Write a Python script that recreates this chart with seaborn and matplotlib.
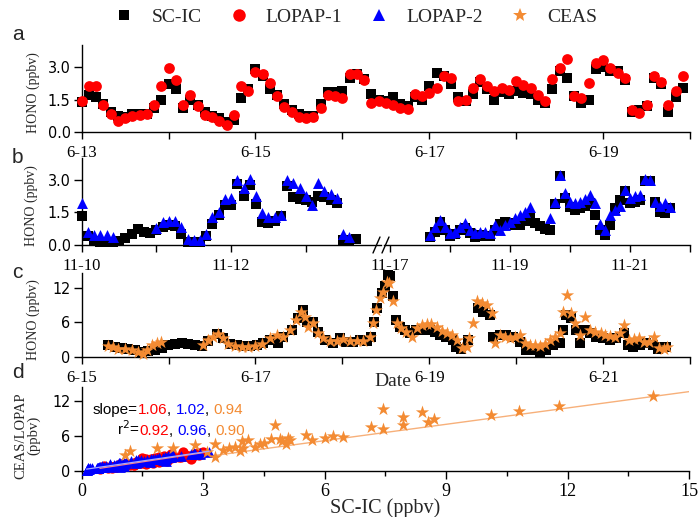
import numpy as np
import pandas as pd
import matplotlib
matplotlib.use("Agg")
import matplotlib.pyplot as plt
from matplotlib import font_manager
from matplotlib.lines import Line2D
from matplotlib.ticker import MultipleLocator
import seaborn as sns

# ---------------- data ----------------
# panel a: June campaign, SC-IC vs LOPAP-1, 2-hourly from 6-13 00:00
a_hours = np.arange(0, 168, 2)
a_scic = [1.40, 1.70, 1.60, 1.30, 0.95, 0.75, 0.70, 0.85, 0.85, 0.85,
          1.10, 1.50, 2.20, 2.00, 1.10, 1.50, 1.25, 0.95, 0.75, 0.65,
          0.45, 0.55, 1.55, 2.00, 2.90, 2.60, 2.00, 1.70, 1.30, 1.00,
          0.85, 0.75, 0.75, 1.30, 1.85, 1.85, 1.90, 2.50, 2.65, 2.45,
          1.75, 1.50, 1.45, 1.60, 1.30, 1.20, 1.60, 1.50, 2.10, 2.70,
          2.60, 2.20, 1.60, 1.45, 1.75, 2.30, 2.00, 1.50, 1.85, 1.75,
          1.90, 1.80, 1.75, 1.50, 1.35, 2.00, 2.80, 2.50, 1.65, 1.35,
          1.50, 2.90, 3.00, 2.80, 2.80, 2.40, 0.95, 1.00, 1.20, 2.49,
          2.20, 0.95, 1.60, 2.03]
a_lopap1 = [1.45, 2.10, 2.10, 1.25, 0.85, 0.50, 0.65, 0.76, 0.77, 0.85,
            1.25, 2.10, 2.95, 2.40, 1.25, 1.70, 1.20, 0.80, 0.72, 0.50,
            0.35, 0.80, 2.10, 1.88, 2.75, 2.65, 2.25, 1.65, 1.18, 0.95,
            0.72, 0.65, 0.70, 1.10, 1.70, 1.65, 1.57, 2.65, 2.65, 2.40,
            1.34, 1.42, 1.34, 1.26, 1.10, 1.08, 1.75, 1.65, 1.80, 2.03,
            2.60, 2.50, 1.42, 1.50, 2.03, 2.45, 2.10, 1.88, 2.05, 1.95,
            2.34, 2.18, 2.03, 1.72, 1.42, 2.42, 2.95, 3.35, 1.65, 1.57,
            2.26, 3.18, 3.30, 2.95, 2.70, 2.50, 1.03, 0.88, 1.26, 2.60,
            2.30, 1.26, 1.88, 2.57]
a_ticklabels = ["6-13", "", "6-15", "", "6-17", "", "6-19", ""]

# panel b: November campaign, SC-IC vs LOPAP-2 (two periods)
nan = np.nan
b1_hours = np.arange(0, 90, 2)          # from 11-10 00:00
b1_scic = [1.35, 0.40, 0.20, 0.15, 0.15, 0.15, 0.20, 0.33, 0.50, 0.75,
           0.60, 0.54, 0.69, 0.85, 0.92, 0.88, 0.50, 0.15, 0.12, 0.12,
           0.40, 0.95, 1.40, 1.85, 1.85, 2.80, 2.25, 2.77, 1.90, 1.05,
           1.00, 1.10, 1.35, 2.69, 2.20, 2.12, 2.05, 2.00, 2.23, 2.20,
           2.05, 1.92, 0.25, 0.18, 0.28]
b1_lopap2 = [1.92, 0.60, 0.46, 0.46, 0.46, 0.38, nan, nan, nan, nan,
             nan, nan, 0.77, 1.05, 1.12, 1.10, 0.85, 0.27, 0.23, 0.23,
             0.50, 1.30, 1.54, 2.12, 2.15, 3.00, 2.62, 3.05, 2.23, 1.46,
             1.31, 1.31, 1.38, 3.00, 2.85, 2.60, 2.25, 1.85, 2.85, 2.50,
             2.35, 2.15, 0.50, 0.36, nan]
b2_hours = np.arange(16, 114, 2)        # from 11-17 00:00
b2_scic = [0.38, 0.60, 1.05, 0.70, 0.40, 0.50, 0.70, 0.80, 0.55, 0.38,
           0.45, 0.42, 0.40, 0.69, 0.95, 1.05, 1.00, 0.92, 0.92, 1.10,
           1.23, 1.00, 0.88, 0.75, 0.70, 1.90, 3.15, 2.15, 1.75, 1.62,
           1.70, 1.80, 1.92, 1.38, 0.69, 0.46, 0.92, 1.69, 2.08, 2.46,
           1.92, 2.00, 2.08, 2.92, 2.92, 2.00, 1.54, 1.46, 1.69]
b2_lopap2 = [0.46, 0.85, 1.15, 0.85, 0.54, 0.62, 0.85, 1.00, 0.69, 0.54,
             0.62, 0.62, 0.54, 0.92, 0.69, 0.92, 1.08, 1.23, 1.38, 1.54,
             1.77, nan, nan, nan, 1.23, 2.00, 3.23, 2.40, 2.00, 1.92,
             2.00, 2.10, 2.31, 1.92, 0.95, 0.69, 1.40, 1.62, 1.80, 2.54,
             2.15, 2.23, 2.31, 3.05, 3.00, 2.00, 1.80, 1.92, 1.77]
b1_ticklabels = ["11-10", "", "11-12", ""]
b2_ticklabels = ["11-17", "", "11-19", "", "11-21", ""]

# panel c: SC-IC vs CEAS, hours from 6-15 00:00
c_scic_hours = [7.4, 9.2, 11.0, 12.9, 14.7, 16.6, 18.4, 20.2, 22.1, 23.9,
                25.8, 27.6, 29.4, 31.3, 33.1, 35.0, 37.3, 39.1, 40.9, 42.8,
                44.6, 46.5, 48.3, 50.1, 52.0, 54.3, 55.7, 58.0, 59.8, 61.2,
                62.3, 63.9, 65.3, 67.2, 69.5, 71.3, 73.1, 75.0, 76.8, 78.7,
                80.0, 80.7, 81.6, 82.8, 83.7, 84.6, 85.1, 86.0, 86.9, 87.8,
                89.2, 90.6, 92.4, 94.3, 96.1, 97.5, 98.9, 100.7, 102.5, 103.5,
                104.8, 106.7, 109.4, 110.8, 112.7, 113.6, 115.4, 117.3, 119.1, 121.0,
                122.8, 124.6, 126.5, 128.3, 130.1, 132.0, 132.9, 133.8, 135.2, 136.6,
                137.5, 138.9, 140.3, 142.1, 144.0, 145.8, 147.6, 149.9, 150.8, 152.2,
                154.1, 155.9, 157.7, 159.1, 160.5, 161.4]
c_scic = [2.13, 1.84, 1.55, 1.38, 1.26, 0.98, 1.09, 1.26, 1.55, 2.13,
          2.30, 2.41, 2.30, 2.13, 1.95, 2.87, 4.02, 3.28, 2.30, 2.13,
          1.95, 1.95, 2.13, 2.53, 2.99, 2.41, 3.56, 4.71, 6.72, 8.16,
          6.15, 6.15, 4.43, 2.99, 2.41, 3.28, 2.70, 2.70, 2.99, 2.87,
          3.56, 6.15, 8.45, 11.00, 12.20, 14.20, 13.90, 10.46, 6.44, 5.29,
          4.71, 4.14, 4.71, 4.71, 4.71, 4.43, 3.85, 3.56, 2.99, 1.84,
          1.38, 2.99, 8.45, 7.87, 7.30, 3.56, 3.85, 3.85, 3.56, 2.70,
          1.26, 1.26, 0.98, 1.26, 2.13, 2.41, 4.71, 7.30, 6.72, 4.71,
          2.41, 4.71, 4.14, 3.56, 3.28, 2.99, 3.28, 4.14, 2.13, 1.84,
          2.13, 2.41, 2.13, 1.38, 1.72, 1.72]
c_ceas_hours = [7.4, 8.7, 10.1, 12.0, 13.8, 15.6, 17.0, 17.9, 19.3, 20.7, 22.0,
                33.6, 35.0, 36.3, 37.7, 39.1, 40.5, 42.3, 44.2, 46.0, 47.8,
                49.7, 52.0, 53.8, 55.7, 57.5, 59.3, 60.7, 61.6, 62.6, 63.9,
                65.3, 66.7, 68.5, 70.4, 72.2, 74.1, 75.9, 77.7, 79.6,
                80.5, 81.4, 82.3, 83.3, 84.2, 85.0, 86.0, 87.0, 88.3, 89.7,
                91.1, 92.5, 93.9, 95.3, 96.6, 98.0, 99.4, 100.8, 102.2, 103.6,
                105.0, 106.3, 107.0, 108.0, 109.1, 110.5, 111.9, 113.3, 114.2, 115.6,
                117.0, 118.3, 119.7, 121.1, 122.5, 123.9, 125.3, 126.6, 128.0, 129.4,
                130.8, 132.2, 133.0, 134.0, 135.0, 136.3, 137.7, 139.1, 140.5, 141.9,
                143.3, 144.6, 146.0, 147.4, 148.8, 149.7, 151.1, 152.5, 153.9, 155.3,
                156.6, 158.0, 159.4, 160.8, 161.7]
c_ceas = [1.95, 1.72, 1.44, 1.38, 1.26, 0.98, 0.57, 1.26, 2.13, 2.41, 2.70,
          2.13, 2.99, 3.56, 4.02, 3.28, 2.30, 1.95, 1.72, 1.72, 1.95,
          2.30, 3.28, 3.85, 3.56, 4.71, 6.44, 7.87, 7.00, 5.29, 5.86,
          4.14, 3.28, 2.87, 2.82, 3.16, 2.87, 2.87, 2.87, 3.56,
          5.86, 8.16, 10.17, 11.30, 13.00, 12.70, 9.60, 5.86, 5.00, 4.43,
          3.56, 5.00, 5.57, 5.75, 5.75, 5.29, 4.60, 4.14, 3.85, 2.99,
          1.55, 1.84, 3.28, 5.86, 9.60, 9.30, 9.00, 7.60, 2.41, 3.85,
          3.56, 3.28, 3.45, 3.85, 2.41, 2.13, 2.13, 1.95, 2.30, 2.99,
          3.56, 4.14, 7.87, 10.75, 7.60, 5.86, 3.85, 7.00, 4.71, 4.43,
          4.14, 3.85, 3.68, 3.56, 4.14, 5.57, 2.99, 3.10, 3.28, 2.70,
          2.70, 3.56, 1.55, 1.38, 1.72]
c_ticklabels = ["6-15", "", "6-17", "", "6-19", "", "6-21", ""]

# panel d: CEAS against SC-IC
d_scic = [14.1, 11.8, 10.8, 10.1, 8.7, 8.55, 8.4, 7.93, 7.93, 7.44, 7.44, 7.15,
          6.45, 6.2, 6.0, 5.7, 5.55, 5.1, 5.05, 4.9, 4.77, 4.68, 4.4, 4.27,
          4.1, 3.98, 3.95, 3.78, 3.65, 3.29, 3.29, 2.8, 2.26, 1.85, 1.19, 1.07,
          3.5, 3.9, 4.5, 4.95, 5.15, 3.1]
d_ceas = [13.0, 11.2, 10.3, 9.7, 9.0, 8.5, 10.1, 9.3, 7.9, 10.7, 7.3, 7.6,
          5.9, 6.0, 5.7, 5.3, 6.3, 5.7, 4.7, 5.6, 7.9, 5.5, 4.6, 4.2,
          5.4, 3.9, 5.1, 4.2, 3.9, 4.6, 2.5, 4.5, 3.9, 3.9, 3.4, 2.7,
          3.6, 3.4, 4.9, 5.1, 5.3, 3.3]
slopes = {"LOPAP-1": 1.06, "LOPAP-2": 1.02, "CEAS": 0.94}
r2 = {"LOPAP-1": 0.92, "LOPAP-2": 0.96, "CEAS": 0.90}
ceas_intercept = -0.4

series_names = ["SC-IC", "LOPAP-1", "LOPAP-2", "CEAS"]
colors = {"SC-IC": "#000000", "LOPAP-1": "#ff0000", "LOPAP-2": "#0000ff", "CEAS": "#f38b33"}
markers = {"SC-IC": "s", "LOPAP-1": "o", "LOPAP-2": "^", "CEAS": "*"}

# ---------------- style ----------------
sns.set_theme(style="ticks")
SERIF = "Liberation Serif"
SANS = "Liberation Sans"
_fonts = font_manager.fontManager.ttflist
if any(f.name == "Liberation Sans Narrow" for f in _fonts):
    NUM_FONT = {"fontfamily": "Liberation Sans Narrow", "fontsize": 12.5}
elif any(f.name == "DejaVu Sans" and f.stretch == "condensed" for f in _fonts):
    NUM_FONT = {"fontfamily": "DejaVu Sans", "fontstretch": "condensed", "fontsize": 11.5}
else:
    NUM_FONT = {"fontfamily": SANS, "fontsize": 11.5}
plt.rcParams["font.family"] = [SANS, "DejaVu Sans"]
plt.rcParams["axes.linewidth"] = 1.0

W, H = 698, 517
fig = plt.figure(figsize=(W / 100, H / 100), dpi=100)


def rect(l, t, r, b):
    return [l / W, 1 - b / H, (r - l) / W, (b - t) / H]


def frame(ax, ylim, yticks, ylabels, left=True):
    sns.despine(ax=ax, left=not left)
    for s in ("left", "bottom"):
        ax.spines[s].set_color("black")
        ax.spines[s].set_linewidth(1.0)
    ax.set_ylim(*ylim)
    ax.set_xlabel("")
    ax.set_ylabel("")
    ax.tick_params(axis="x", direction="out", length=5, width=1, pad=4, colors="black")
    if left:
        ax.set_yticks(yticks, ylabels, **NUM_FONT)
        ax.tick_params(axis="y", direction="out", length=6, width=1, pad=2, colors="black")
    else:
        ax.set_yticks([])
    ax.grid(False)


def series(ax, x, y, name, s, z, clip=False, **kw):
    df = pd.DataFrame({"x": x, "y": y}).dropna()
    sns.scatterplot(data=df, x="x", y="y", marker=markers[name], color=colors[name],
                    s=s, linewidth=0, ax=ax, legend=False, zorder=z, clip_on=clip, **kw)


# ---------------- panel a ----------------
ax_a = fig.add_axes(rect(81.7, 45, 690, 132.3))
series(ax_a, a_hours / 24, a_scic, "SC-IC", 46, 2)
series(ax_a, a_hours / 24, a_lopap1, "LOPAP-1", 60, 3)
ax_a.set_xlim(0, 7)
frame(ax_a, (0, 4.0), [0, 1.5, 3.0], ["0.0", "1.5", "3.0"])
ax_a.set_xticks(range(8), a_ticklabels, fontfamily=SERIF, fontsize=12)
ax_a.set_ylabel("HONO (ppbv)", fontfamily=SERIF, fontsize=10)
ax_a.yaxis.set_label_coords(-0.068, 0.45)

# ---------------- panel b (broken time axis) ----------------
ax_b1 = fig.add_axes(rect(81.7, 158, 380.5, 245))
ax_b2 = fig.add_axes(rect(384, 158, 690, 245))
series(ax_b1, b1_hours / 24, b1_scic, "SC-IC", 46, 2)
series(ax_b1, b1_hours / 24, b1_lopap2, "LOPAP-2", 62, 3)
series(ax_b2, b2_hours / 24, b2_scic, "SC-IC", 46, 2)
series(ax_b2, b2_hours / 24, b2_lopap2, "LOPAP-2", 62, 3)
ax_b1.set_xlim(0, 4.0)
ax_b2.set_xlim(-0.1, 5)
frame(ax_b1, (0, 4.0), [0, 1.5, 3.0], ["0.0", "1.5", "3.0"])
frame(ax_b2, (0, 4.0), [], [], left=False)
ax_b1.set_xticks(range(4), b1_ticklabels, fontfamily=SERIF, fontsize=12)
ax_b2.set_xticks(range(6), b2_ticklabels, fontfamily=SERIF, fontsize=12)
ax_b1.set_ylabel("HONO (ppbv)", fontfamily=SERIF, fontsize=10)
ax_b1.yaxis.set_label_coords(-0.146, 0.45)
for x0 in (373, 382):
    fig.add_artist(Line2D([x0 / W, (x0 + 7) / W], [1 - 253 / H, 1 - 237 / H],
                          color="black", lw=1.0))

# ---------------- panel c ----------------
ax_c = fig.add_axes(rect(81.7, 273, 690, 357.3))
series(ax_c, np.array(c_scic_hours) / 24, c_scic, "SC-IC", 46, 2)
series(ax_c, np.array(c_ceas_hours) / 24, c_ceas, "CEAS", 100, 3)
ax_c.set_xlim(0, 7)
frame(ax_c, (0, 14.5), [0, 6, 12], ["0", "6", "12"])
ax_c.set_xticks(range(8), c_ticklabels, fontfamily=SERIF, fontsize=12)
ax_c.set_ylabel("HONO (ppbv)", fontfamily=SERIF, fontsize=10)
ax_c.yaxis.set_label_coords(-0.068, 0.45)

# ---------------- panel d ----------------
ax_d = fig.add_axes(rect(81.7, 387, 689, 471))
pairs = {
    "LOPAP-1": (np.array(a_scic), np.array(a_lopap1)),
    "LOPAP-2": (np.concatenate([b1_scic, b2_scic]), np.concatenate([b1_lopap2, b2_lopap2])),
    "CEAS": (np.array(d_scic), np.array(d_ceas)),
}
sizes = {"LOPAP-1": 55, "LOPAP-2": 60, "CEAS": 100}
for z, name in enumerate(["LOPAP-1", "LOPAP-2", "CEAS"]):
    x, y = pairs[name]
    series(ax_d, x, y, name, sizes[name], 3 + z)

# regression lines with the stated slopes
xs = np.array([0.0, 15.0])
sns.lineplot(x=xs, y=slopes["CEAS"] * xs + ceas_intercept, color="#f7b07a", lw=1.0,
             ax=ax_d, zorder=2, legend=False)
line_colors = {"LOPAP-1": "#ff8080", "LOPAP-2": "#a8a8ff"}
for name in ["LOPAP-1", "LOPAP-2"]:
    x, y = pairs[name]
    ok = ~np.isnan(y)
    k = slopes[name]
    b0 = np.mean(y[ok]) - k * np.mean(x[ok])
    xl = np.array([np.min(x[ok]), np.max(x[ok])])
    sns.lineplot(x=xl, y=k * xl + b0, color=line_colors[name], lw=0.9, ax=ax_d,
                 zorder=7, legend=False)
ax_d.set_xlim(0, 15)
frame(ax_d, (0, 14.5), [0, 6, 12], ["0", "6", "12"])
ax_d.set_xticks([0, 3, 6, 9, 12, 15], ["0", "3", "6", "9", "12", "15"],
               fontfamily=SERIF, fontsize=13)
ax_d.xaxis.set_minor_locator(MultipleLocator(1.5))
ax_d.tick_params(axis="x", which="minor", direction="out", length=3.5, width=1, colors="black")
ax_d.tick_params(axis="x", which="major", length=5.5, pad=3)
ax_d.set_xlabel("SC-IC (ppbv)", fontfamily=SERIF, fontsize=14.5, labelpad=-1)
ax_d.set_ylabel("CEAS/LOPAP\n(ppbv)", fontfamily=SERIF, fontsize=10.5, linespacing=1.0)
ax_d.yaxis.set_label_coords(-0.068, 0.42)


def colored_line(ax, x, y, pieces, size=11):
    prev = ax.text(x, y, pieces[0][0], color=pieces[0][1], transform=ax.transAxes,
                   fontsize=size, fontfamily=SANS, va="baseline", ha="left", zorder=8)
    for txt, col in pieces[1:]:
        prev = ax.annotate(txt, xy=(1, 0), xycoords=prev, va="bottom", ha="left",
                           color=col, fontsize=size, fontfamily=SANS, zorder=8)


k_txt = [f"{slopes[n]:.2f}" for n in ["LOPAP-1", "LOPAP-2", "CEAS"]]
r_txt = [f"{r2[n]:.2f}" for n in ["LOPAP-1", "LOPAP-2", "CEAS"]]
colored_line(ax_d, 0.018, 0.68, [("slope=", "black"), (k_txt[0], colors["LOPAP-1"]), (", ", "black"),
                                 (k_txt[1], colors["LOPAP-2"]), (", ", "black"),
                                 (k_txt[2], colors["CEAS"])])
colored_line(ax_d, 0.058, 0.43, [(r"r$^2$=", "black"), (r_txt[0], colors["LOPAP-1"]), (", ", "black"),
                                 (r_txt[1], colors["LOPAP-2"]), (", ", "black"),
                                 (r_txt[2], colors["CEAS"])])

# ---------------- shared labels ----------------
fig.text(393 / W, 1 - 381 / H, "Date", fontfamily=SERIF, fontsize=14, ha="center", va="center")
for letter, yp in zip("abcd", [35, 158, 272, 372]):
    fig.text(12 / W, 1 - yp / H, letter, fontfamily=SANS, fontsize=15, ha="left", va="center")

handles = [Line2D([], [], linestyle="", marker=markers[n], color=colors[n],
                  markersize={"SC-IC": 7, "LOPAP-1": 9, "LOPAP-2": 8, "CEAS": 10}[n],
                  markeredgewidth=0) for n in series_names]
fig.legend(handles, series_names, loc="center", bbox_to_anchor=(0.51, 1 - 17 / H), ncol=4,
           frameon=False, prop={"family": SERIF, "size": 14}, handletextpad=0.9,
           columnspacing=1.4, handlelength=1.0, borderaxespad=0)

fig.savefig("out.png", dpi=100)
